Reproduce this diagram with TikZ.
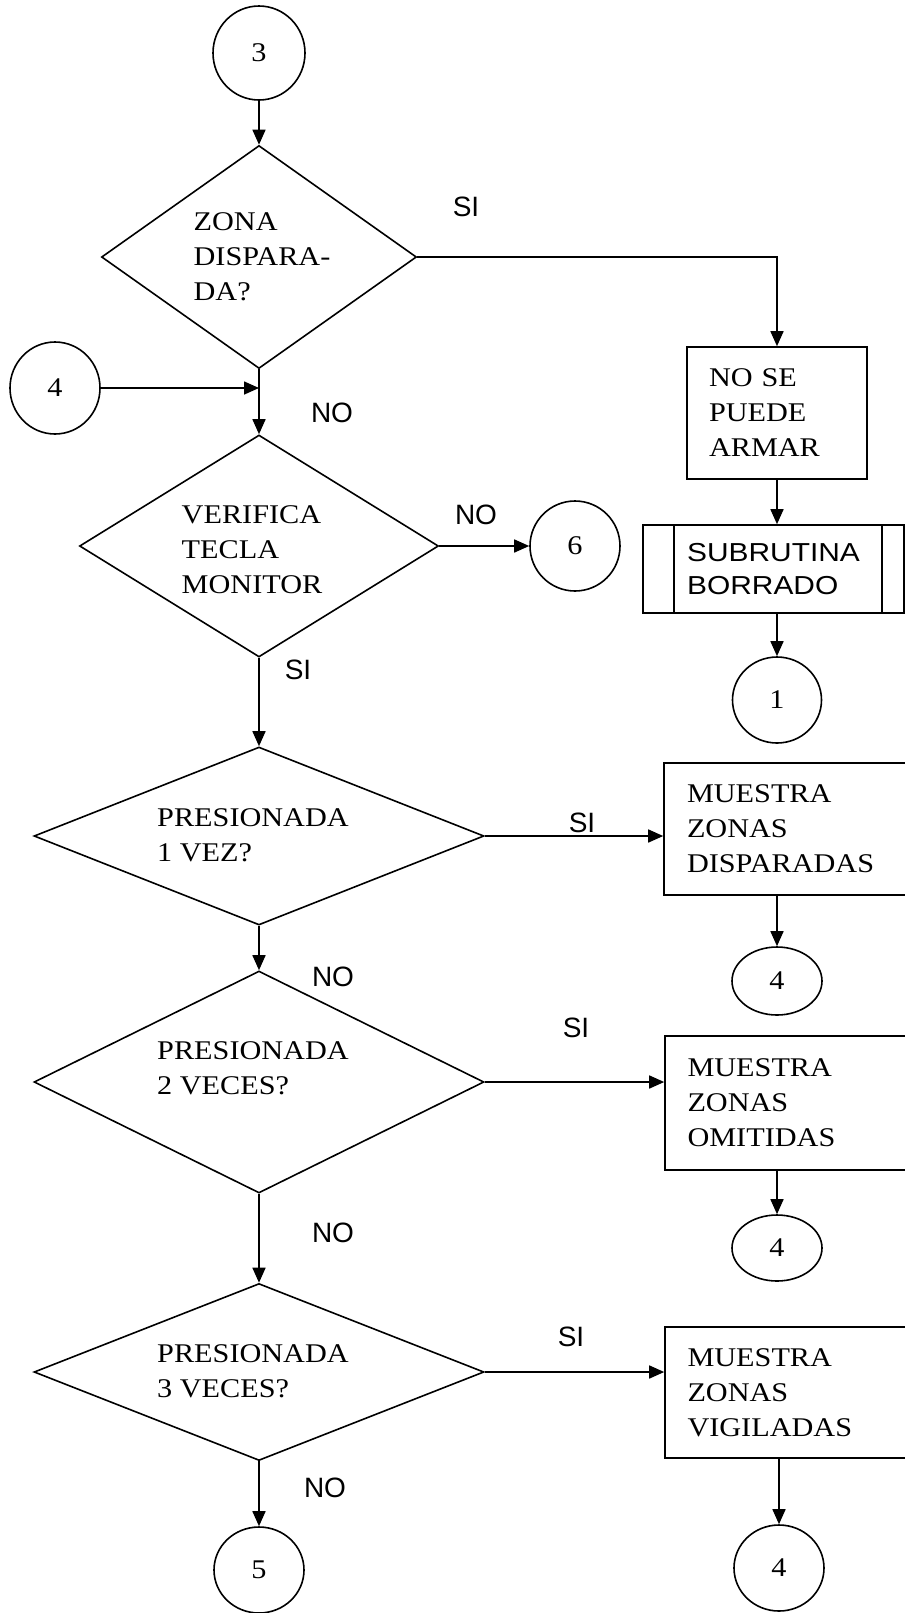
\documentclass[tikz,border=0pt]{standalone}
\usepackage{fontspec}
\setmainfont{Liberation Serif}[FakeStretch=1.12]
\newfontfamily\labelfont{Liberation Sans}
\newfontfamily\subrfont{Liberation Sans}[FakeStretch=1.15]
\usetikzlibrary{shapes.geometric,arrows.meta}

\begin{document}
\begin{tikzpicture}[x=0.5pt,y=-0.5pt,
  line width=0.8pt,
  every node/.style={inner sep=0pt,font=\fontsize{13.5}{17.5}\selectfont},
  flow/.style={-{Triangle[length=7.5pt,width=6.5pt]}},
  decision/.style n args={2}{draw,diamond,minimum width=#1,minimum height=#2},
  dtext/.style={align=left},
  connector/.style n args={2}{draw,ellipse,minimum width=#1,minimum height=#2},
  process/.style n args={3}{draw,rectangle,minimum width=#1,minimum height=#2,
    text width=#3,inner xsep=11pt,align=left},
  answer/.style={font=\labelfont\fontsize{14}{16}\selectfont}
]
\useasboundingbox (0,0) rectangle (905,1613);

% connectors (off-page references)
\node[connector={46pt}{47pt}] (c3)  at (259,53)   {3};
\node[connector={45pt}{46pt}] (c4l) at (55,388)   {4};
\node[connector={45pt}{45pt}] (c6)  at (575,546)  {6};
\node[connector={44.5pt}{43pt}] (c1) at (777,700) {1};
\node[connector={45pt}{34pt}] (c4a) at (777,981)  {4};
\node[connector={45pt}{33pt}] (c4b) at (777,1248) {4};
\node[connector={45pt}{43pt}] (c4c) at (779,1568) {4};
\node[connector={45pt}{43pt}] (c5)  at (259,1570) {5};

% decisions
\node[decision={157.5pt}{111.5pt}] (d1) at (259,257)  {};
\node[decision={179.5pt}{111pt}]   (d2) at (259,546)  {};
\node[decision={225pt}{89pt}]      (d3) at (259,836)  {};
\node[decision={225pt}{111pt}]     (d4) at (259,1082) {};
\node[decision={225pt}{88.5pt}]    (d5) at (259,1372) {};

\node[dtext] (t1) at (262,257)  {ZONA\\DISPARA-\\DA?};
\node[dtext] (t2) at (252,550)  {VERIFICA\\TECLA\\MONITOR};
\node[dtext] (t3) at (253,835)  {PRESIONADA\\1 VEZ?};
\node[dtext] (t4) at (253,1068) {PRESIONADA\\2 VECES?};
\node[dtext] (t5) at (253,1371) {PRESIONADA\\3 VECES?};

% processes
\node[process={90pt}{66pt}{68pt}]       (box1) at (777,413)    {NO SE\\PUEDE\\ARMAR};
\node[process={123pt}{66pt}{100pt}]     (box2) at (787,829)    {MUESTRA\\ZONAS\\DISPARADAS};
\node[process={122.5pt}{67pt}{100pt}]   (box3) at (787.5,1103) {MUESTRA\\ZONAS\\OMITIDAS};
\node[process={122.5pt}{65.5pt}{100pt}] (box4) at (787.5,1392.5) {MUESTRA\\ZONAS\\VIGILADAS};

% predefined process (subroutine)
\node[draw,rectangle,minimum width=130.5pt,minimum height=44pt,align=left,
  font=\subrfont\fontsize{13}{16.5}\selectfont] (sub) at (773.5,569) {SUBRUTINA\\BORRADO};
\draw ([xshift=16pt]sub.north west) -- ([xshift=16pt]sub.south west);
\draw ([xshift=-11.5pt]sub.north east) -- ([xshift=-11.5pt]sub.south east);

% branch answers
\node[answer] (si1) at (466,207)  {SI};
\node[answer] (no1) at (332,413)  {NO};
\node[answer] (no2) at (476,515)  {NO};
\node[answer] (si2) at (298,670)  {SI};
\node[answer] (si3) at (582,823)  {SI};
\node[answer] (no3) at (333,977)  {NO};
\node[answer] (si4) at (576,1028) {SI};
\node[answer] (no4) at (333,1233) {NO};
\node[answer] (si5) at (571,1337) {SI};
\node[answer] (no5) at (325,1488) {NO};

% flow lines
\draw[flow] (c3) -- (d1);
\draw[flow] (d1.east) -| (box1.north);
\draw[flow] (d1.south) -- (d2.north);
\draw[flow] (c4l.east) -- (c4l.east -| d1.south);
\draw[flow] (d2.east) -- (c6.west);
\draw[flow] (d2.south) -- (d3.north);
\draw[flow] (box1.south) -- (box1.south |- sub.north);
\draw[flow] (c1.north |- sub.south) -- (c1.north);
\draw[flow] (d3.east) -- (d3.east -| box2.west);
\draw[flow] (c4a.north |- box2.south) -- (c4a.north);
\draw[flow] (d3.south) -- (d4.north);
\draw[flow] (d4.east) -- (d4.east -| box3.west);
\draw[flow] (c4b.north |- box3.south) -- (c4b.north);
\draw[flow] (d4.south) -- (d5.north);
\draw[flow] (d5.east) -- (d5.east -| box4.west);
\draw[flow] (c4c.north |- box4.south) -- (c4c.north);
\draw[flow] (d5.south) -- (c5.north);
\end{tikzpicture}
\end{document}
